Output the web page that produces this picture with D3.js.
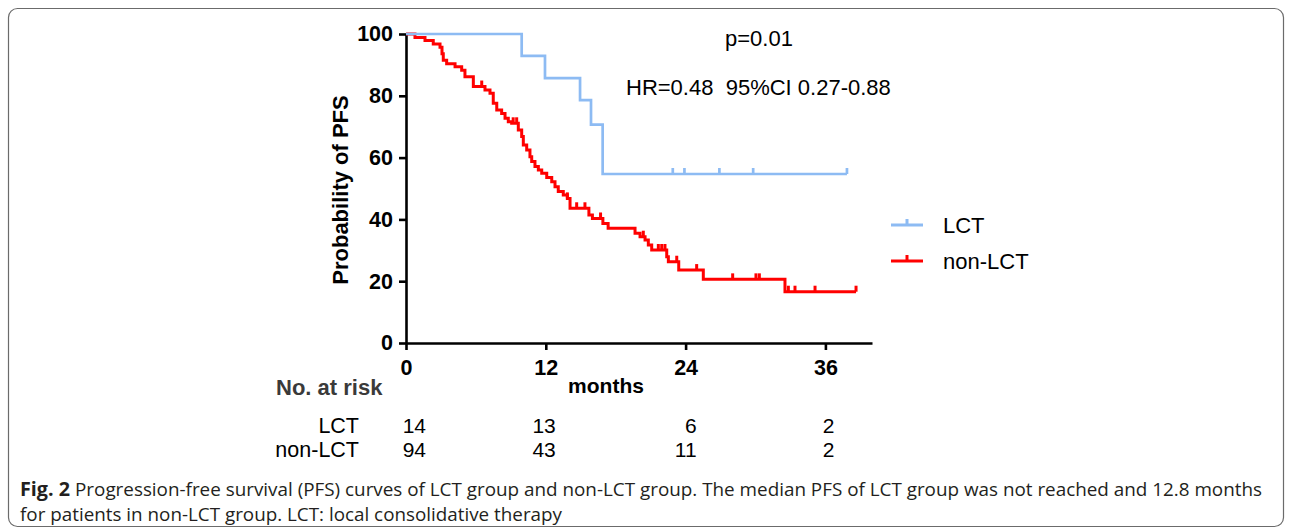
<!DOCTYPE html>
<html>
<head>
<meta charset="utf-8">
<script src="https://cdn.jsdelivr.net/npm/d3@7/dist/d3.min.js"></script>
<style>
  html, body { margin: 0; padding: 0; background: #fff; }
  svg { display: block; }
</style>
</head>
<body>
<svg id="chart" width="1292" height="532"></svg>
<script>
// ---------------- data ----------------
const xTicks = [0, 12, 24, 36];
const yTicks = [0, 20, 40, 60, 80, 100];
const seriesNames = ["LCT", "non-LCT"];

// LCT Kaplan-Meier steps (months, % progression free after step)
const lctTimes = [0, 9.93, 11.93, 14.94, 15.88, 16.88];
const lctSurv  = [100, 92.9, 85.7, 78.6, 70.7, 54.7];
const lctEnd = 37.85;
const lctCensor = [22.9, 23.9, 26.9, 29.8, 37.85];

// non-LCT Kaplan-Meier steps
const nonTimes = [0, 0.77, 1.63, 2.34, 2.92, 3.09, 3.2, 3.49, 4.21, 4.78, 5.06, 5.78, 6.78, 7.21, 7.49, 7.79,
  8.21, 8.5, 8.78, 9.07, 9.64, 9.93, 10.07, 10.36, 10.64, 10.79, 11.07, 11.36, 11.65, 12.08, 12.51, 12.79,
  13.07, 13.5, 13.85, 14.08, 15.7, 16.0, 16.9, 17.35, 19.66, 20.09, 20.52, 20.8, 21.09, 22.38, 22.52, 23.41,
  25.52, 32.53];
const nonSurv = [100, 98.9, 97.9, 96.8, 95.7, 93.6, 91.5, 90.4, 89.4, 88.3, 86.2, 83.0, 81.9, 80.8, 77.6, 75.4,
  74.3, 72.7, 71.6, 71.1, 68.9, 66.8, 64.1, 62.5, 60.3, 58.7, 57.1, 56.0, 54.9, 53.6, 52.2, 50.6,
  49.0, 47.9, 46.8, 43.6, 41.4, 40.3, 38.7, 37.1, 35.5, 34.4, 33.3, 31.7, 30.1, 27.9, 26.3, 23.6,
  20.6, 16.6];
const nonEnd = 38.63;
const nonCensor = [6.5, 9.2, 9.5, 13.85, 14.65, 15.36, 16.7, 20.37, 21.66, 21.95, 22.23, 23.24, 24.95,
  28.04, 30.04, 30.33, 32.82, 33.39, 35.11, 38.63];

// numbers at risk
const riskLCT = [14, 13, 6, 2];
const riskNon = [94, 43, 11, 2];

const pText = "p=0.01";
const hrText = "HR=0.48  95%CI 0.27-0.88";
const captionBold = "Fig. 2";
const captionLine1 = "Progression-free survival (PFS) curves of LCT group and non-LCT group. The median PFS of LCT group was not reached and 12.8 months";
const captionLine2 = "for patients in non-LCT group. LCT: local consolidative therapy";

// ---------------- layout ----------------
const BLUE = "#8dbbf3", RED = "#ff0000";
const FONT = "'Liberation Sans', Arial, sans-serif";
const svg = d3.select("#chart");
svg.append("rect").attr("width", 1292).attr("height", 532).attr("fill", "#fff");

// frame
svg.append("rect").attr("x", 8.5).attr("y", 8.5).attr("width", 1275).attr("height", 518)
  .attr("rx", 9).attr("fill", "none").attr("stroke", "#6b6b6b").attr("stroke-width", 1.2);

const x = d3.scaleLinear().domain([0, 40]).range([406, 872]);
const y = d3.scaleLinear().domain([0, 100]).range([343, 34]);

// axes
const gx = svg.append("g").attr("transform", `translate(0,${y(0)})`)
  .call(d3.axisBottom(x).tickValues(xTicks).tickSize(7).tickPadding(10).tickSizeOuter(0));
const gy = svg.append("g").attr("transform", `translate(${x(0)},0)`)
  .call(d3.axisLeft(y).tickValues(yTicks).tickSize(7).tickPadding(6).tickSizeOuter(0));
[gx, gy].forEach(g => {
  g.select(".domain").attr("stroke", "#000").attr("stroke-width", 2.6);
  g.selectAll(".tick line").attr("stroke", "#000").attr("stroke-width", 2.6);
  g.selectAll(".tick text").attr("fill", "#000").style("font-family", FONT)
    .style("font-size", "21.5px").style("font-weight", "bold");
});

// axis titles
svg.append("text").attr("transform", "translate(348,190) rotate(-90)")
  .attr("text-anchor", "middle").style("font-family", FONT).style("font-size", "22px")
  .style("font-weight", "bold").text("Probability of PFS");
svg.append("text").attr("x", 606).attr("y", 393).attr("text-anchor", "middle")
  .style("font-family", FONT).style("font-size", "21px").style("font-weight", "bold").text("months");

// step path builder
function stepPath(times, surv, end) {
  const pts = [];
  times.forEach((t, i) => {
    if (i > 0) pts.push([t, surv[i - 1]]);
    pts.push([t, surv[i]]);
  });
  pts.push([end, surv[surv.length - 1]]);
  return d3.line().x(d => x(d[0])).y(d => y(d[1]))(pts);
}
function survAt(times, surv, t) {
  let v = surv[0];
  for (let i = 0; i < times.length; i++) if (times[i] <= t) v = surv[i];
  return v;
}
function drawCurve(times, surv, end, censor, color, sw) {
  const g = svg.append("g");
  g.append("path").attr("d", stepPath(times, surv, end)).attr("fill", "none")
    .attr("stroke", color).attr("stroke-width", sw).attr("stroke-linejoin", "miter");
  g.selectAll("line.c").data(censor).enter().append("line")
    .attr("x1", d => x(d)).attr("x2", d => x(d))
    .attr("y1", d => y(survAt(times, surv, d)))
    .attr("y2", d => y(survAt(times, surv, d)) - 6)
    .attr("stroke", color).attr("stroke-width", sw);
}
drawCurve(nonTimes, nonSurv, nonEnd, nonCensor, RED, 3);
drawCurve(lctTimes, lctSurv, lctEnd, lctCensor, BLUE, 2.7);

// annotations
svg.append("text").attr("x", 725).attr("y", 46).style("font-family", FONT).style("font-size", "22px").text(pText);
svg.append("text").attr("x", 626).attr("y", 95).style("font-family", FONT).style("font-size", "22px")
  .attr("xml:space", "preserve").style("white-space", "pre").text(hrText);

// legend
const legColors = [BLUE, RED];
const legY = [225, 261];
seriesNames.forEach((name, i) => {
  const g = svg.append("g");
  g.append("line").attr("x1", 891).attr("x2", 923).attr("y1", legY[i]).attr("y2", legY[i])
    .attr("stroke", legColors[i]).attr("stroke-width", 3);
  g.append("line").attr("x1", 907).attr("x2", 907).attr("y1", legY[i]).attr("y2", legY[i] - 6)
    .attr("stroke", legColors[i]).attr("stroke-width", 3);
  g.append("text").attr("x", 943).attr("y", legY[i] + 8).style("font-family", FONT)
    .style("font-size", "22px").text(name);
});

// risk table
svg.append("text").attr("x", 276).attr("y", 395)
  .style("font-family", FONT).style("font-size", "22px").style("font-weight", "bold")
  .attr("fill", "#3a3a3a").text("No. at risk");
const riskRows = [riskLCT, riskNon];
const rowY = [433, 457];
const colOff = [20, 10, 11, 9];
riskRows.forEach((row, r) => {
  svg.append("text").attr("x", 359).attr("y", rowY[r]).attr("text-anchor", "end")
    .style("font-family", FONT).style("font-size", "21.5px").text(seriesNames[r]);
  row.forEach((v, i) => {
    svg.append("text").attr("x", x(xTicks[i]) + colOff[i]).attr("y", rowY[r]).attr("text-anchor", "end")
      .style("font-family", FONT).style("font-size", "21px").text(v);
  });
});

// caption
const CAP = "'Open Sans', 'Noto Sans', sans-serif";
svg.append("text").attr("x", 20).attr("y", 496).style("font-family", CAP).style("font-size", "19px")
  .style("font-weight", "bold").attr("fill", "#231f20")
  .attr("textLength", 50).attr("lengthAdjust", "spacingAndGlyphs").text(captionBold);
svg.append("text").attr("x", 75).attr("y", 496).style("font-family", CAP).style("font-size", "19px")
  .attr("fill", "#231f20").attr("textLength", 1187).attr("lengthAdjust", "spacingAndGlyphs").text(captionLine1);
svg.append("text").attr("x", 20).attr("y", 521).style("font-family", CAP).style("font-size", "19px")
  .attr("fill", "#231f20").attr("textLength", 542).attr("lengthAdjust", "spacingAndGlyphs").text(captionLine2);
</script>
</body>
</html>
